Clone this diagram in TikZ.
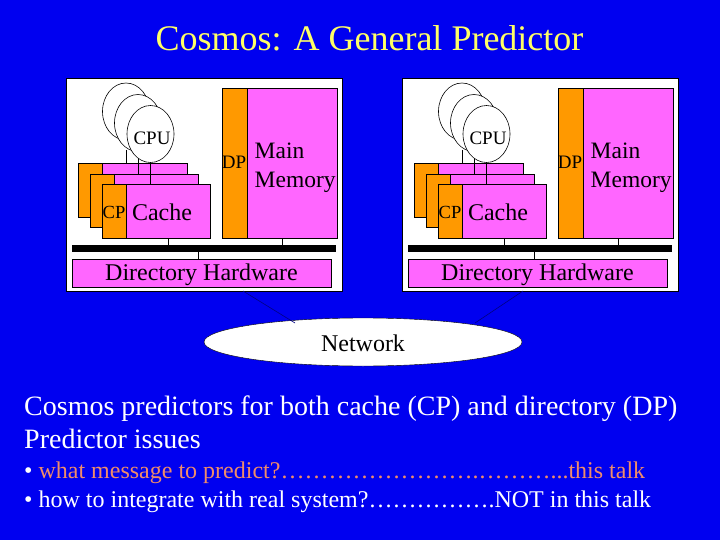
\documentclass[tikz,border=0pt]{standalone}
\usepackage{fontspec}
\setmainfont{Liberation Serif}
\usetikzlibrary{shapes.geometric}
\definecolor{slideblue}{RGB}{0,0,240}
\definecolor{boxpink}{RGB}{255,102,255}
\definecolor{boxorange}{RGB}{255,153,0}
\definecolor{titleyellow}{RGB}{255,255,102}
\definecolor{talksalmon}{RGB}{240,140,105}
\definecolor{wireblue}{RGB}{0,0,130}
\newcommand{\sz}[1]{\fontsize{#1}{#1}\selectfont}
\tikzset{
  pinkbox/.style={draw, fill=boxpink, line width=.7pt, inner sep=0pt, outer sep=0pt},
  orangebox/.style={draw, fill=boxorange, line width=.7pt, inner sep=0pt, outer sep=0pt},
  cpucircle/.style={draw, ellipse, fill=white, line width=.6pt, inner sep=0pt, outer sep=0pt, minimum width=47pt, minimum height=57pt},
  label/.style={inner sep=0pt, font=\sz{24}},
  small/.style={inner sep=0pt, font=\sz{19}},
  wire/.style={line width=.6pt},
  slidetext/.style={anchor=base west, inner sep=0pt, text=white, font=\sz{28}},
  issue/.style={anchor=base west, inner sep=0pt, text=white, font=\sz{24}},
}
\begin{document}
\begin{tikzpicture}[x=1pt, y=-1pt]
    \fill[slideblue] (0,0) rectangle (720,540);
    \node[text=titleyellow, inner sep=0pt, font=\sz{36}] (title) at (369.5, 38) {Cosmos: A General Predictor};
    \node[draw, ellipse, fill=white, inner sep=0pt, minimum width=318pt, minimum height=48pt] (net) at (363, 342) {};
    \foreach \p/\dx in {l/0, r/336} {
    \begin{scope}[xshift=\dx pt]
    \node[draw, fill=white, inner sep=0pt, outer sep=0pt, minimum width=276pt, minimum height=213pt] (panel\p) at (204, 184.5) {};
    % caches
    \node[orangebox, minimum width=24pt, minimum height=54pt] (cpa\p) at (90, 190) {};
    \node[pinkbox, minimum width=85pt, minimum height=54pt] (cachea\p) at (144.5, 190) {};
    \node[orangebox, minimum width=24pt, minimum height=53pt] (cpb\p) at (102, 200.5) {};
    \node[pinkbox, minimum width=84pt, minimum height=53pt] (cacheb\p) at (156, 200.5) {};
    \node[orangebox, minimum width=24pt, minimum height=54pt] (cpc\p) at (114, 211) {};
    \node[pinkbox, minimum width=84pt, minimum height=54pt] (cachec\p) at (168, 211) {};
    \coordinate (ja\p) at (126, 150);
    \coordinate (jb\p) at (138, 150);
    \coordinate (jc\p) at (150, 150);
    \draw[wire] (ja\p) -- (ja\p |- cachea\p.north);
    \draw[wire] (jb\p) -- (jb\p |- cacheb\p.north);
    \draw[wire] (jc\p) -- (jc\p |- cachec\p.north);
    \node[cpucircle] (cpua\p) at (126, 111.5) {};
    \node[cpucircle] (cpub\p) at (138, 123) {};
    \node[cpucircle] (cpuc\p) at (150.5, 134) {};
    % memory
    \node[orangebox, minimum width=25pt, minimum height=150pt] (dp\p) at (234.5, 163) {};
    \node[pinkbox, minimum width=90pt, minimum height=150pt] (mem\p) at (292, 163) {};
    % bus
    \node[fill=black, inner sep=0pt, outer sep=0pt, minimum width=264pt, minimum height=7pt] (bus\p) at (204, 248.5) {};
    \node[pinkbox, minimum width=259pt, minimum height=28pt] (dir\p) at (201.5, 273) {};
    \coordinate (jm\p) at (282, 238);
    \coordinate (jd\p) at (198, 252);
    \draw[wire] (cachec\p.south) -- (cachec\p.south |- bus\p.north);
    \draw[wire] (jm\p) -- (jm\p |- bus\p.north);
    \draw[wire] (jd\p) -- (jd\p |- dir\p.north);
    \node[small] (cpu\p) at (152, 138) {CPU};
    \node[small, font=\sz{18.5}] (cp\p) at (114, 212) {CP};
    \node[label] (cache\p) at (162, 212) {Cache};
    \node[small] (dplabel\p) at (234, 162) {DP};
    \node[label, align=left, anchor=west, font=\sz{23.5}] (main\p) at (254.5, 168) {Main\\[5pt]Memory};
    \node[label] (hw\p) at (201.5, 275) {Directory Hardware};
    \end{scope}
    }
    % links to the network
    \coordinate (tapl) at (243, 291);
    \coordinate (netl) at (295, 323);
    \coordinate (tapr) at (523, 291);
    \coordinate (netr) at (475, 323);
    \draw[wireblue, wire] (tapl) -- (netl);
    \draw[wireblue, wire] (tapr) -- (netr);
    \node[inner sep=0pt, font=\sz{24}] (netlabel) at (363, 343.5) {Network};
    \node[slidetext] (line1) at (24, 415) {Cosmos predictors for both cache (CP) and directory (DP)};
    \node[slidetext] (line2) at (24, 448) {Predictor issues};
    \node[issue] (issue1) at (24, 478) {• \textcolor{talksalmon}{what message to predict?…………………….………...this talk}};
    \node[issue] (issue2) at (24, 507) {• how to integrate with real system?…………….NOT in this talk};
\end{tikzpicture}
\end{document}
